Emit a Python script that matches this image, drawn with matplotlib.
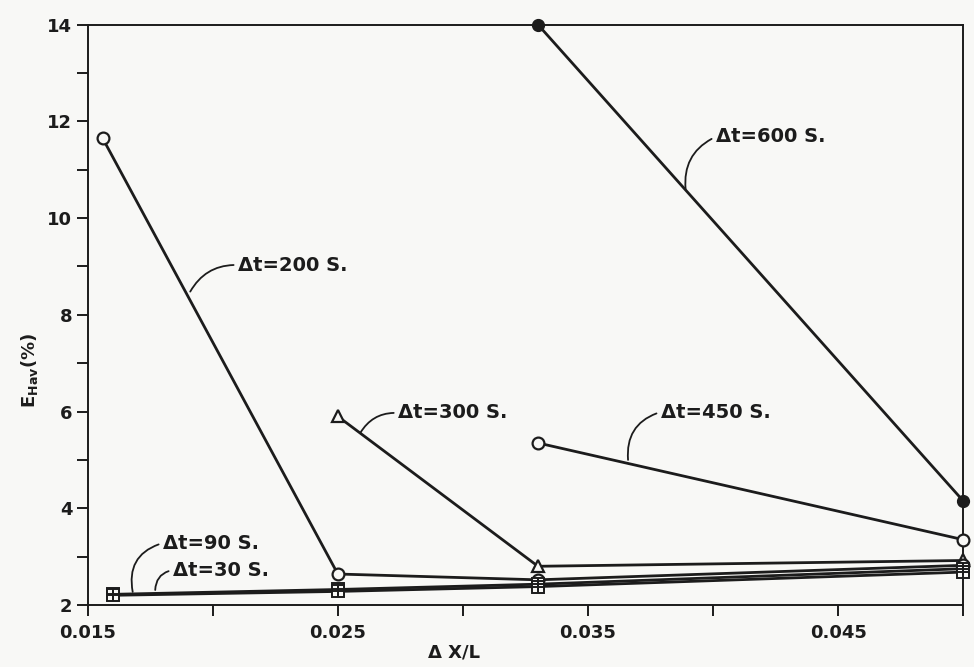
import numpy as np
import matplotlib.pyplot as plt
from matplotlib.ticker import FixedLocator, MultipleLocator, FormatStrFormatter

# grid spacing (dx/L) for each run
x_600 = [0.033, 0.050]
e_600 = [14.0, 4.15]

x_450 = [0.033, 0.050]
e_450 = [5.35, 3.35]

x_300 = [0.025, 0.033, 0.050]
e_300 = [5.9, 2.8, 2.92]

x_200 = [0.0156, 0.025, 0.033, 0.050]
e_200 = [11.65, 2.64, 2.52, 2.82]

x_90 = [0.016, 0.025, 0.033, 0.050]
e_90 = [2.22, 2.32, 2.43, 2.75]

x_30 = [0.016, 0.025, 0.033, 0.050]
e_30 = [2.2, 2.28, 2.38, 2.68]

x_ticks = [0.015, 0.025, 0.035, 0.045]
y_ticks = [2, 4, 6, 8, 10, 12, 14]

# label text, text position, point on the curve, arc bend
labels = [
    ('\u0394t=600 S.', (0.0401, 11.68), (0.0389, 10.6), 0.35),
    ('\u0394t=450 S.', (0.0379, 5.99), (0.0366, 5.0), 0.4),
    ('\u0394t=300 S.', (0.0274, 5.97), (0.0259, 5.56), 0.3),
    ('\u0394t=200 S.', (0.0210, 9.03), (0.0191, 8.48), 0.3),
    ('\u0394t=90 S.', (0.0180, 3.28), (0.0168, 2.27), 0.45),
    ('\u0394t=30 S.', (0.0184, 2.72), (0.0177, 2.31), 0.4),
]

ink = '#1c1c1c'
paper = '#f8f8f6'

fig = plt.figure(figsize=(9.74, 6.67), dpi=100, facecolor=paper)
ax = fig.add_axes([0.090, 0.093, 0.899, 0.870], facecolor=paper)

lw = 2.0
ms = 8.5
ax.plot(x_600, e_600, '-o', color=ink, lw=lw, ms=ms, mfc=ink, mec=ink, zorder=3, clip_on=False)
ax.plot(x_450, e_450, '-o', color=ink, lw=lw, ms=ms, mfc=paper, mec=ink, mew=1.6, zorder=3, clip_on=False)
ax.plot(x_300, e_300, '-^', color=ink, lw=lw, ms=ms, mfc=paper, mec=ink, mew=1.6, zorder=3, clip_on=False)
ax.plot(x_200, e_200, '-o', color=ink, lw=lw, ms=ms, mfc=paper, mec=ink, mew=1.6, zorder=3, clip_on=False)
for xs, es in [(x_90, e_90), (x_30, e_30)]:
    ax.plot(xs, es, '-', color=ink, lw=lw, zorder=2)
    ax.plot(xs, es, 's', ms=ms, mfc=paper, mec=ink, mew=1.4, zorder=3, clip_on=False)
    ax.plot(xs, es, '+', ms=ms, mec=ink, mew=1.4, zorder=4, clip_on=False)

for txt, tpos, ppos, rad in labels:
    ax.annotate(txt, xy=ppos, xytext=tpos, ha='left', va='center',
                fontsize=14, color=ink, fontweight='bold',
                arrowprops=dict(arrowstyle='-', color=ink, lw=1.3,
                                relpos=(0, 0.5), shrinkA=1, shrinkB=0,
                                connectionstyle='arc3,rad=%s' % rad))

ax.set_xlim(0.015, 0.050)
ax.set_ylim(2, 14)
ax.xaxis.set_major_locator(FixedLocator(x_ticks))
ax.xaxis.set_minor_locator(FixedLocator([0.020, 0.030, 0.040, 0.050]))
ax.xaxis.set_major_formatter(FormatStrFormatter('%.3f'))
ax.yaxis.set_major_locator(FixedLocator(y_ticks))
ax.yaxis.set_minor_locator(MultipleLocator(1))

ax.tick_params(which='both', direction='out', length=8, width=1.4, color=ink,
               labelsize=13, labelcolor=ink)
ax.tick_params(axis='x', pad=6)
ax.tick_params(axis='y', pad=3)
for lab in ax.get_xticklabels() + ax.get_yticklabels():
    lab.set_fontweight('bold')
for sp in ax.spines.values():
    sp.set_linewidth(1.4)
    sp.set_color(ink)

ax.set_xlabel('\u0394 X/L', fontsize=13, fontweight='bold', color=ink)
ax.xaxis.set_label_coords(0.418, -0.066)
ax.set_ylabel(r'E$_{\mathbf{Hav}}$(%)', fontsize=13, fontweight='bold', color=ink)
ax.yaxis.set_label_coords(-0.055, 0.405)

fig.savefig('out.png', dpi=100, facecolor=paper)
